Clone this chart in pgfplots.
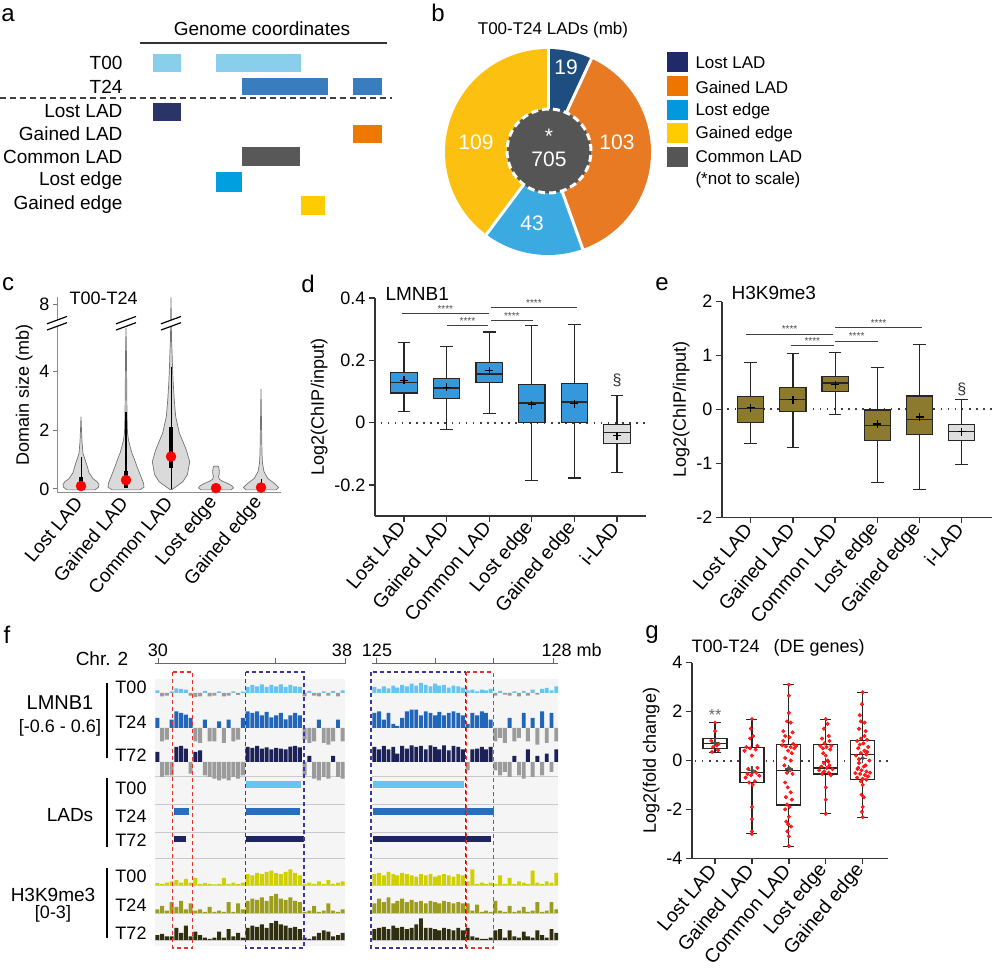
\documentclass[border=0pt]{standalone}
\usepackage{pgfplots}
\pgfplotsset{compat=1.18}
\usepackage{pgfplotstable}
\usepgfplotslibrary{statistics}
\usepackage{fontspec}
\setmainfont{Liberation Sans}

\definecolor{aT00}{RGB}{137,207,235}
\definecolor{aT24}{RGB}{58,125,191}
\definecolor{cLost}{RGB}{43,52,103}
\definecolor{cGained}{RGB}{240,120,0}
\definecolor{cCommon}{RGB}{88,88,88}
\definecolor{cLE}{RGB}{0,160,224}
\definecolor{cGE}{RGB}{255,204,0}
\definecolor{pLost}{RGB}{30,77,128}
\definecolor{pGained}{RGB}{232,122,35}
\definecolor{pLE}{RGB}{58,170,225}
\definecolor{pGE}{RGB}{252,192,16}
\definecolor{pCommon}{RGB}{85,85,85}
\definecolor{lLost}{RGB}{32,42,105}
\definecolor{lGained}{RGB}{238,118,0}
\definecolor{lLE}{RGB}{0,153,221}
\definecolor{lGE}{RGB}{255,204,0}
\definecolor{boxblue}{RGB}{52,152,219}
\definecolor{boxolive}{RGB}{140,122,46}
\definecolor{boxgrey}{RGB}{222,222,222}
\definecolor{vfill}{RGB}{218,218,218}
\definecolor{trL00}{RGB}{102,196,240}
\definecolor{trL24}{RGB}{33,102,184}
\definecolor{trL72}{RGB}{28,34,88}
\definecolor{trNeg}{RGB}{155,155,155}
\definecolor{trH00}{RGB}{208,208,0}
\definecolor{trH24}{RGB}{156,156,30}
\definecolor{trH72}{RGB}{47,47,16}
\definecolor{ladT00}{RGB}{102,196,240}
\definecolor{ladT24}{RGB}{40,110,190}
\definecolor{ladT72}{RGB}{30,37,96}
\definecolor{redbox}{RGB}{235,50,45}
\definecolor{bluebox}{RGB}{60,55,160}
\definecolor{bandbg}{RGB}{245,245,245}
\definecolor{bandline}{RGB}{200,200,205}

\pgfplotstableread{
x L00 L24 L72 H00 H24 H72
29.97 0.08 0.30 0.30 0.15 0.3 0.4
30.17 -0.10 -0.40 -0.45 0.1 0.6 0.5
30.38 -0.08 -0.35 -0.40 0.2 0.2 0.3
30.58 0.05 0.25 -0.40 0.3 0.9 0.3
30.78 0.14 0.50 0.45 0.4 0.5 1.0
30.99 0.12 0.45 0.48 0.2 1.0 0.6
31.19 0.10 0.40 0.40 0.5 0.3 1.2
31.39 -0.08 0.30 -0.35 0.2 0.8 0.3
31.60 -0.12 -0.40 0.30 0.6 0.2 0.7
31.80 -0.10 -0.45 0.35 0.1 0.3 0.4
32.00 0.06 0.25 -0.40 0.15 0.1 0.2
32.21 -0.10 -0.40 -0.45 0.1 0.5 0.1
32.41 -0.08 -0.40 -0.50 0.05 0.1 0.2
32.61 0.05 0.20 -0.55 0.1 0.2 0.7
32.82 -0.10 -0.45 -0.50 0.6 0.1 0.2
33.02 -0.08 0.25 -0.55 0.1 0.9 0.9
33.22 0.05 -0.40 -0.45 0.2 0.1 0.3
33.43 -0.06 -0.35 -0.50 0.1 0.8 0.6
33.63 0.04 0.30 -0.40 0.2 0.3 0.2
33.83 0.18 0.50 0.45 0.9 1.0 1.0
34.04 0.24 0.45 0.42 0.8 1.2 1.2
34.24 0.20 0.50 0.48 1.0 1.1 1.1
34.44 0.26 0.38 0.40 0.9 1.3 1.3
34.65 0.18 0.48 0.44 1.1 1.0 1.0
34.85 0.24 0.32 0.38 1.2 1.4 1.4
35.05 0.20 0.38 0.42 1.0 1.6 1.6
35.26 0.26 0.45 0.40 0.9 1.2 1.3
35.46 0.18 0.26 0.38 1.1 1.1 1.2
35.66 0.24 0.38 0.46 1.3 1.3 1.0
35.87 0.20 0.45 0.48 1.0 1.0 1.1
36.07 0.18 0.38 0.44 0.8 0.9 0.9
36.27 -0.10 -0.35 -0.40 0.1 0.1 0.2
36.48 0.06 -0.45 0.18 0.2 0.2 0.1
36.68 -0.08 -0.40 -0.50 0.1 0.6 0.3
36.88 -0.10 0.25 -0.55 0.3 0.1 0.6
37.09 0.05 -0.45 -0.45 0.1 0.2 0.8
37.29 -0.08 -0.50 -0.50 0.4 0.8 0.7
37.49 0.06 -0.40 0.18 0.1 0.2 0.3
37.70 -0.10 0.25 -0.45 0.2 0.1 0.4
37.90 0.08 -0.40 -0.50 0.3 0.3 0.6
}\leftregion

\pgfplotstableread{
x L00 L24 L72 H00 H24 H72
124.97 0.18 0.45 0.45 0.9 0.8 0.9
125.05 0.12 0.50 0.38 1.0 1.2 1.0
125.13 0.20 0.25 0.48 0.8 0.9 1.1
125.21 0.14 0.45 0.38 1.1 1.3 0.9
125.29 0.22 0.12 0.45 0.9 0.8 1.2
125.36 0.16 0.06 0.25 0.8 1.0 1.0
125.44 0.24 0.30 0.48 1.0 1.2 1.1
125.52 0.20 0.50 0.40 0.9 0.9 0.9
125.60 0.28 0.55 0.50 0.8 1.1 1.0
125.68 0.22 0.55 0.45 0.7 0.9 1.3
125.76 0.30 0.38 0.48 0.9 1.0 1.8
125.84 0.24 0.50 0.38 0.8 0.8 1.0
125.92 0.20 0.45 0.50 0.9 1.0 1.0
126.00 0.28 0.38 0.45 0.7 0.9 0.9
126.07 0.22 0.48 0.38 0.8 0.8 0.8
126.15 0.24 0.38 0.50 0.9 1.0 1.0
126.23 0.16 0.45 0.35 0.8 0.9 0.9
126.31 0.22 0.50 0.48 0.7 0.8 0.8
126.39 0.20 0.45 0.45 0.9 0.9 1.0
126.47 0.16 0.38 0.38 0.8 0.8 0.8
126.55 0.08 0.12 -0.25 0.3 0.8 1.0
126.63 0.10 0.45 0.38 1.3 0.2 0.3
126.71 0.05 0.38 0.40 0.1 0.7 0.2
126.79 0.10 0.50 0.45 0.2 0.1 0.1
126.86 0.08 0.45 0.38 0.1 0.2 0.1
126.94 0.12 0.25 0.45 0.2 0.1 0.2
127.02 -0.08 -0.40 -0.25 0.1 1.0 0.8
127.10 0.06 -0.30 -0.40 0.8 0.2 0.9
127.18 -0.05 -0.45 -0.30 0.1 0.1 0.2
127.26 -0.08 0.30 -0.45 0.6 0.6 0.8
127.34 0.05 -0.40 0.18 0.1 0.1 0.3
127.42 -0.10 -0.30 -0.40 0.3 0.2 0.2
127.50 0.06 0.45 -0.50 0.2 0.5 0.7
127.57 -0.08 -0.40 0.38 0.1 0.1 0.3
127.65 0.10 0.30 -0.45 1.2 0.2 0.2
127.73 -0.05 -0.50 0.18 0.2 0.9 0.8
127.81 0.12 0.50 -0.40 0.1 0.1 0.4
127.89 0.15 -0.45 0.25 0.3 0.2 0.2
127.97 0.08 0.45 -0.30 0.2 0.9 0.9
128.05 0.20 -0.40 0.38 1.0 0.3 0.6
}\rightregion

\pgfplotsset{
  gp/.style={scale only axis, anchor=south west,
    axis x line*=bottom, axis y line*=left,
    axis line style={line width=1.3pt, black!80},
    every tick/.append style={line width=1.3pt, black!80},
    tick align=outside, major tick length=6pt,
    tick label style={font=\fontsize{18}{20}\selectfont},
    label style={font=\fontsize{18}{20}\selectfont},
    xticklabel style={rotate=50, anchor=east, font=\fontsize{19.5}{21}\selectfont},
    clip=false},
  bx/.style={boxplot/draw direction=y, boxplot/box extend=0.62,
    boxplot/whisker extend=0.3, draw=black!85, line width=1.2pt, solid},
  trk/.style={scale only axis, hide axis, anchor=south west},
}

% signal track with positive (colour) and negative (grey) parts
\newcommand{\sigtrack}[9]{%
\coordinate (trkpos) at (#1,968-#5);
\begin{axis}[trk, at={(trkpos)}, width=#2, height=40, xmin=#3, xmax=#4, ymin=-0.6, ymax=0.6]
\addplot[ybar, bar width=#9, bar shift=0pt, fill=#8, draw=none, restrict y to domain=0:5] table[x=x,y=#7]{#6};
\addplot[ybar, bar width=#9, bar shift=0pt, fill=trNeg, draw=none, restrict y to domain=-5:0] table[x=x,y=#7]{#6};
\end{axis}}
\newcommand{\htrack}[9]{%
\coordinate (trkpos) at (#1,968-#5);
\begin{axis}[trk, at={(trkpos)}, width=#2, height=36, xmin=#3, xmax=#4, ymin=0, ymax=3]
\addplot[ybar, bar width=#9, bar shift=0pt, fill=#8, draw=none] table[x=x,y=#7]{#6};
\end{axis}}
% axis break mark at x-position #1 (inside panel c axis)
\newcommand{\brk}[1]{%
  \fill[white] (axis cs:#1-10,5.39) -- (axis cs:#1+10,5.64) -- (axis cs:#1+10,5.85) -- (axis cs:#1-10,5.6) -- cycle;
  \draw[black, line width=1.2pt] (axis cs:#1-10,5.39) -- (axis cs:#1+10,5.64);
  \draw[black, line width=1.2pt] (axis cs:#1-10,5.6) -- (axis cs:#1+10,5.85);}

\begin{document}
\begin{tikzpicture}[x=1pt,y=1pt,font=\fontsize{18}{21}\selectfont]
\useasboundingbox (0,0) rectangle (992,968);
% axis anchor points (pixel positions of the reference, y measured from the bottom)
\coordinate (Pa) at (0,968-230);
\coordinate (Pc) at (57,968-493);
\coordinate (Pd) at (375,968-516);
\coordinate (Pe) at (722,968-517.3);
\coordinate (Pg) at (692,968-858.3);
\coordinate (PLl) at (155,968-858);
\coordinate (PLr) at (372,968-858);

% ---------------- panel letters
\begin{scope}[font=\fontsize{24}{26}\selectfont]
\node at (8,968-15) {a};
\node at (438,968-13) {b};
\node at (8,968-284) {c};
\node at (308,968-284) {d};
\node at (662,968-284) {e};
\node at (7,968-635) {f};
\node at (652,968-635) {g};
\end{scope}

% ---------------- panel a
\begin{axis}[trk, at={(Pa)}, width=420, height=230, xmin=0, xmax=420, ymin=0, ymax=230, y dir=reverse]
\addplot[fill=aT00, draw=none] coordinates {(153,54) (181,54) (181,72) (153,72)} -- cycle;
\addplot[fill=aT00, draw=none] coordinates {(216,54) (301,54) (301,72) (216,72)} -- cycle;
\addplot[fill=aT24, draw=none] coordinates {(242,78) (328,78) (328,95) (242,95)} -- cycle;
\addplot[fill=aT24, draw=none] coordinates {(353,78) (382,78) (382,95) (353,95)} -- cycle;
\addplot[fill=cLost, draw=none] coordinates {(153,103) (181,103) (181,121) (153,121)} -- cycle;
\addplot[fill=cGained, draw=none] coordinates {(353,125) (382,125) (382,143) (353,143)} -- cycle;
\addplot[fill=cCommon, draw=none] coordinates {(242,147) (300,147) (300,166) (242,166)} -- cycle;
\addplot[fill=cLE, draw=none] coordinates {(216,172) (242,172) (242,192) (216,192)} -- cycle;
\addplot[fill=cGE, draw=none] coordinates {(301,196) (325,196) (325,215) (301,215)} -- cycle;
\end{axis}
\begin{scope}[font=\fontsize{19}{21}\selectfont]
\node at (262,968-29) {Genome coordinates};
\draw[black!80, line width=1.2pt] (140,968-43) -- (387,968-43);
\node[anchor=east] at (126,968-63) {T00};
\node[anchor=east] at (126,968-87) {T24};
\draw[black!75, line width=1.2pt, dash pattern=on 6pt off 4pt] (0,968-98) -- (392,968-98);
\node[anchor=east] at (126,968-111) {Lost LAD};
\node[anchor=east] at (126,968-134) {Gained LAD};
\node[anchor=east] at (126,968-157) {Common LAD};
\node[anchor=east] at (126,968-181) {Lost edge};
\node[anchor=east] at (126,968-205) {Gained edge};
\end{scope}

% ---------------- panel b (pie)
\node[font=\fontsize{17}{19}\selectfont] at (553,968-30) {T00-T24 LADs (mb)};
\pgfmathsetmacro\aA{90-19/274*360}
\pgfmathsetmacro\aB{\aA-103/274*360}
\pgfmathsetmacro\aC{\aB-43/274*360}
\fill[pLost] (548,816) -- ++(90:103) arc[start angle=90,end angle=\aA,radius=103] -- cycle;
\fill[pGained] (548,816) -- ++(\aA:103) arc[start angle=\aA,end angle=\aB,radius=103] -- cycle;
\fill[pLE] (548,816) -- ++(\aB:103) arc[start angle=\aB,end angle=\aC,radius=103] -- cycle;
\fill[pGE] (548,816) -- ++(\aC:103) arc[start angle=\aC,end angle=-270,radius=103] -- cycle;
\foreach \a in {90,\aA,\aB,\aC} \draw[white,line width=3pt] (548,816) -- ++(\a:105);
\fill[pCommon] (549,817) circle[radius=42];
\draw[white,line width=3pt,dash pattern=on 7pt off 4pt] (549,817) circle[radius=42];
\begin{scope}[white, font=\fontsize{21}{22}\selectfont]
\node at (566,968-67) {19};
\node at (617,968-142) {103};
\node at (532,968-223) {43};
\node at (476,968-142) {109};
\node at (549,968-136) {*};
\node at (549,968-159) {705};
\end{scope}
\begin{scope}[font=\fontsize{17}{19}\selectfont]
\fill[lLost] (667,968-72) rectangle (688,968-52);
\fill[lGained] (667,968-96) rectangle (688,968-76);
\fill[lLE] (667,968-120) rectangle (688,968-100);
\fill[lGE] (667,968-143) rectangle (688,968-123);
\fill[pCommon] (667,968-167) rectangle (688,968-147);
\node[anchor=west] at (692,968-63) {Lost LAD};
\node[anchor=west] at (692,968-87) {Gained LAD};
\node[anchor=west] at (692,968-111) {Lost edge};
\node[anchor=west] at (692,968-134) {Gained edge};
\node[anchor=west] at (692,968-157) {Common LAD};
\node[anchor=west] at (692,968-180) {(*not to scale)};
\end{scope}

% ---------------- panel c (violins)
\begin{axis}[scale only axis, anchor=south west, at={(Pc)}, width=224, height=196,
  xmin=57, xmax=281, ymin=-0.136, ymax=6.51,
  axis x line*=bottom, axis y line*=left,
  axis line style={line width=1pt, black!45},
  ytick={0,2,4,6.27}, yticklabels={0,2,4,8},
  xtick={81,126,171,216,261},
  xticklabels={Lost LAD,Gained LAD,Common LAD,Lost edge,Gained edge},
  xtick style={draw=none},
  ytick style={black!55, line width=1pt},
  tick align=outside, major tick length=4pt,
  tick label style={font=\fontsize{18}{20}\selectfont},
  xticklabel style={rotate=50, anchor=east, font=\fontsize{19}{21}\selectfont},
  label style={font=\fontsize{18}{20}\selectfont},
  ylabel={Domain size (mb)}, clip=false]
\addplot[fill=vfill, draw=black!55, line width=0.7pt] coordinates {
 (95,-0.03) (98.5,0.06) (99,0.15) (97,0.25) (93,0.35) (89,0.55) (87,0.8) (85,1.0) (83,1.2) (82,1.6) (81.5,2.0) (81,2.45)
 (80.5,2.0) (80,1.6) (79,1.2) (77,1.0) (75,0.8) (73,0.55) (69,0.35) (65,0.25) (63,0.15) (63.5,0.06) (67,-0.03)} -- cycle;
\addplot[fill=vfill, draw=black!55, line width=0.7pt] coordinates {
 (140,-0.03) (144,0.06) (143.5,0.2) (140,0.5) (137,0.76) (134.5,1.0) (132,1.21) (130,1.45) (128.5,1.66) (127.5,1.9) (127,2.5) (126.7,3.5) (126.5,4.5) (126,5.45)
 (125.5,4.5) (125.3,3.5) (125,2.5) (124.5,1.9) (123.5,1.66) (122,1.45) (120,1.21) (117.5,1.0) (115,0.76) (112,0.5) (108.5,0.2) (108,0.06) (112,-0.03)} -- cycle;
\addplot[fill=vfill, draw=black!55, line width=0.7pt] coordinates {
 (172,-0.02) (177,0.1) (183,0.25) (187.5,0.5) (189.7,0.93) (186.3,1.32) (183,1.6) (179.3,1.9) (175.7,2.45) (174.3,3.0) (173.2,3.6) (172.5,4.15) (172,4.7) (171.5,5.05) (171.2,6.0) (171,6.5)
 (170.8,6.0) (170.5,5.05) (170,4.7) (169.5,4.15) (168.8,3.6) (167.7,3.0) (166.3,2.45) (162.7,1.9) (159,1.6) (155.7,1.32) (152.3,0.93) (154.5,0.5) (159,0.25) (165,0.1) (170,-0.02)} -- cycle;
\addplot[fill=vfill, draw=black!55, line width=0.7pt] coordinates {
 (231,-0.03) (233.5,0.04) (231.5,0.12) (227,0.2) (222,0.27) (219.5,0.33) (218.5,0.42) (219.3,0.52) (219.2,0.65) (218.5,0.76) (216,0.78)
 (213.5,0.76) (212.8,0.65) (212.7,0.52) (213.5,0.42) (212.5,0.33) (210,0.27) (205,0.2) (200.5,0.12) (198.5,0.04) (201,-0.03)} -- cycle;
\addplot[fill=vfill, draw=black!55, line width=0.7pt] coordinates {
 (276,-0.03) (278.7,0.05) (274.3,0.19) (267.7,0.36) (264,0.59) (262.5,0.87) (262,1.2) (261.6,2.0) (261,3.39)
 (260.4,2.0) (260,1.2) (259.5,0.87) (258,0.59) (254.3,0.36) (247.7,0.19) (243.3,0.05) (246,-0.03)} -- cycle;
% inner box/whisker lines
\addplot[black, line width=1pt] coordinates {(81,0.42) (81,1.1)};
\addplot[black, line width=3.5pt] coordinates {(81,0.04) (81,0.42)};
\addplot[black, line width=1.6pt] coordinates {(126,0.62) (126,2.62)};
\addplot[black, line width=3.5pt] coordinates {(126,0.04) (126,0.62)};
\addplot[black, line width=1pt] coordinates {(171,0.0) (171,4.15)};
\addplot[black, line width=3.5pt] coordinates {(171,0.7) (171,2.1)};
\addplot[black, line width=3pt] coordinates {(216,0.0) (216,0.12)};
\addplot[black, line width=1pt] coordinates {(261,0.18) (261,0.35)};
\addplot[black, line width=3pt] coordinates {(261,0.0) (261,0.18)};
\addplot[only marks, mark=*, mark size=5pt, color=red, mark options={draw=none}] coordinates {(81,0.1) (126,0.3) (171,1.1) (216,0.03) (261,0.05)};
% axis breaks
\brk{57}
\brk{126}
\brk{171}
\end{axis}
\node[anchor=west, font=\fontsize{18}{20}\selectfont] at (66,968-298) {T00-T24};

% ---------------- panel d
\begin{axis}[gp, at={(Pd)}, width=271, height=218,
  xmin=0.319, xmax=6.68, ymin=-0.3, ymax=0.4,
  ytick={-0.2,0,0.2,0.4}, yticklabels={-0.2,0,0.2,0.4},
  xtick={1,2,3,4,5,6},
  xticklabels={Lost LAD,Gained LAD,Common LAD,Lost edge,Gained edge,i-LAD},
  ylabel={Log2(ChIP/input)}]
\addplot[black!75, line width=2pt, dash pattern=on 1.6pt off 5.5pt] coordinates {(0.45,0) (6.68,0)};
\addplot[bx, fill=boxblue, boxplot prepared={draw position=1, lower whisker=0.035, lower quartile=0.095, median=0.128, upper quartile=0.162, upper whisker=0.257}] coordinates {};
\addplot[bx, fill=boxblue, boxplot prepared={draw position=2, lower whisker=-0.023, lower quartile=0.076, median=0.111, upper quartile=0.141, upper whisker=0.243}] coordinates {};
\addplot[bx, fill=boxblue, boxplot prepared={draw position=3, lower whisker=0.029, lower quartile=0.128, median=0.156, upper quartile=0.194, upper whisker=0.291}] coordinates {};
\addplot[bx, fill=boxblue, boxplot prepared={draw position=4, lower whisker=-0.186, lower quartile=-0.001, median=0.063, upper quartile=0.121, upper whisker=0.311}] coordinates {};
\addplot[bx, fill=boxblue, boxplot prepared={draw position=5, lower whisker=-0.178, lower quartile=0.0, median=0.066, upper quartile=0.126, upper whisker=0.314}] coordinates {};
\addplot[bx, fill=boxgrey, boxplot prepared={draw position=6, lower whisker=-0.160, lower quartile=-0.068, median=-0.033, upper quartile=-0.006, upper whisker=0.088}] coordinates {};
\addplot[only marks, mark=+, mark size=4pt, black, line width=1.2pt] coordinates {(1,0.136) (2,0.113) (3,0.166) (4,0.058) (5,0.061) (6,-0.042)};
\addplot[black!75, line width=1pt] coordinates {(0.95,0.351) (3.0,0.351)};
\addplot[black!75, line width=1pt] coordinates {(2.01,0.311) (2.97,0.311)};
\addplot[black!75, line width=1pt] coordinates {(3.04,0.368) (5.06,0.368)};
\addplot[black!75, line width=1pt] coordinates {(3.04,0.327) (4.03,0.327)};
\node[above, inner sep=1pt, black!70, font=\fontsize{10}{10}\selectfont] at (axis cs:1.97,0.351) {****};
\node[above, inner sep=1pt, black!70, font=\fontsize{10}{10}\selectfont] at (axis cs:2.49,0.311) {****};
\node[above, inner sep=1pt, black!70, font=\fontsize{10}{10}\selectfont] at (axis cs:4.05,0.368) {****};
\node[above, inner sep=1pt, black!70, font=\fontsize{10}{10}\selectfont] at (axis cs:3.53,0.327) {****};
\node[black!80, font=\fontsize{16}{16}\selectfont] at (axis cs:6,0.135) {\S};
\end{axis}
\node[anchor=west, font=\fontsize{19}{21}\selectfont] at (382,968-294) {LMNB1};

% ---------------- panel e
\begin{axis}[gp, at={(Pe)}, width=270, height=215.6,
  xmin=0.32, xmax=6.718, ymin=-2, ymax=2,
  ytick={-2,-1,0,1,2}, yticklabels={-2,-1,0,1,2},
  xtick={1,2,3,4,5,6},
  xticklabels={Lost LAD,Gained LAD,Common LAD,Lost edge,Gained edge,i-LAD},
  ylabel={Log2(ChIP/input)}]
\addplot[black!75, line width=2pt, dash pattern=on 1.6pt off 5.5pt] coordinates {(0.45,0) (6.718,0)};
\addplot[bx, fill=boxolive, boxplot prepared={draw position=1, lower whisker=-0.63, lower quartile=-0.246, median=0.025, upper quartile=0.235, upper whisker=0.87}] coordinates {};
\addplot[bx, fill=boxolive, boxplot prepared={draw position=2, lower whisker=-0.70, lower quartile=-0.04, median=0.19, upper quartile=0.41, upper whisker=1.04}] coordinates {};
\addplot[bx, fill=boxolive, boxplot prepared={draw position=3, lower whisker=-0.10, lower quartile=0.33, median=0.49, upper quartile=0.61, upper whisker=1.06}] coordinates {};
\addplot[bx, fill=boxolive, boxplot prepared={draw position=4, lower whisker=-1.35, lower quartile=-0.57, median=-0.30, upper quartile=-0.01, upper whisker=0.78}] coordinates {};
\addplot[bx, fill=boxolive, boxplot prepared={draw position=5, lower whisker=-1.49, lower quartile=-0.47, median=-0.18, upper quartile=0.25, upper whisker=1.21}] coordinates {};
\addplot[bx, fill=boxgrey, boxplot prepared={draw position=6, lower whisker=-1.02, lower quartile=-0.57, median=-0.41, upper quartile=-0.28, upper whisker=0.19}] coordinates {};
\addplot[only marks, mark=+, mark size=4pt, black, line width=1.2pt] coordinates {(1,0.03) (2,0.18) (3,0.46) (4,-0.27) (5,-0.14) (6,-0.41)};
\addplot[black!75, line width=1pt] coordinates {(0.89,1.40) (2.95,1.40)};
\addplot[black!75, line width=1pt] coordinates {(1.95,1.19) (2.97,1.19)};
\addplot[black!75, line width=1pt] coordinates {(3.0,1.52) (5.06,1.52)};
\addplot[black!75, line width=1pt] coordinates {(3.0,1.27) (4.02,1.27)};
\node[above, inner sep=1pt, black!70, font=\fontsize{10}{10}\selectfont] at (axis cs:1.92,1.40) {****};
\node[above, inner sep=1pt, black!70, font=\fontsize{10}{10}\selectfont] at (axis cs:2.46,1.19) {****};
\node[above, inner sep=1pt, black!70, font=\fontsize{10}{10}\selectfont] at (axis cs:4.03,1.52) {****};
\node[above, inner sep=1pt, black!70, font=\fontsize{10}{10}\selectfont] at (axis cs:3.51,1.27) {****};
\node[black!80, font=\fontsize{16}{16}\selectfont] at (axis cs:6,0.38) {\S};
\end{axis}
\node[anchor=west, font=\fontsize{19}{21}\selectfont] at (728,968-293) {H3K9me3};

% ---------------- panel f
\fill[bandbg] (155,968-679) rectangle (345,968-946);
\fill[bandbg] (372,968-679) rectangle (558,968-946);
\foreach \yy in {776,804,832,858,885,913,940} {
  \draw[bandline, line width=0.9pt] (155,968-\yy) -- (345,968-\yy);
  \draw[bandline, line width=0.9pt] (372,968-\yy) -- (558,968-\yy);
}
% ruler
\draw[black!60, line width=1pt] (155,968-664) -- (345,968-664);
\foreach \xx in {158,275,345} \draw[black!60, line width=1pt] (\xx,968-664) -- (\xx,968-658);
\draw[black!60, line width=1pt] (372,968-664) -- (558,968-664);
\foreach \xx in {376,435,493,553} \draw[black!60, line width=1pt] (\xx,968-664) -- (\xx,968-658);
\node at (158,968-650) {30};
\node at (342,968-650) {38};
\node at (377,968-650) {125};
\node[anchor=west] at (538,968-650) {128 mb};
\node[font=\fontsize{19}{21}\selectfont] at (102,968-659) {Chr. 2};

% signal tracks (left region 29.87-38 mb, right region 124.93-128.08 mb)
\sigtrack{155}{190}{29.87}{38}{713}{\leftregion}{L00}{trL00}{0.17}
\sigtrack{155}{190}{29.87}{38}{748}{\leftregion}{L24}{trL24}{0.17}
\sigtrack{155}{190}{29.87}{38}{782}{\leftregion}{L72}{trL72}{0.17}
\sigtrack{372}{186}{124.93}{128.08}{713}{\rightregion}{L00}{trL00}{0.066}
\sigtrack{372}{186}{124.93}{128.08}{748}{\rightregion}{L24}{trL24}{0.066}
\sigtrack{372}{186}{124.93}{128.08}{782}{\rightregion}{L72}{trL72}{0.066}
\htrack{155}{190}{29.87}{38}{885}{\leftregion}{H00}{trH00}{0.17}
\htrack{155}{190}{29.87}{38}{913}{\leftregion}{H24}{trH24}{0.17}
\htrack{155}{190}{29.87}{38}{940}{\leftregion}{H72}{trH72}{0.17}
\htrack{372}{186}{124.93}{128.08}{885}{\rightregion}{H00}{trH00}{0.066}
\htrack{372}{186}{124.93}{128.08}{913}{\rightregion}{H24}{trH24}{0.066}
\htrack{372}{186}{124.93}{128.08}{940}{\rightregion}{H72}{trH72}{0.066}

% LAD calls
\begin{axis}[trk, at={(PLl)}, width=190, height=82, xmin=29.87, xmax=38, ymin=776, ymax=858, y dir=reverse]
\addplot[fill=ladT00, draw=none] coordinates {(33.75,781.5) (36.10,781.5) (36.10,788) (33.75,788)} -- cycle;
\addplot[fill=ladT24, draw=none] coordinates {(30.68,808.5) (31.33,808.5) (31.33,815) (30.68,815)} -- cycle;
\addplot[fill=ladT24, draw=none] coordinates {(33.76,808.5) (36.07,808.5) (36.07,815) (33.76,815)} -- cycle;
\addplot[fill=ladT72, draw=none] coordinates {(30.68,836) (31.20,836) (31.20,842.5) (30.68,842.5)} -- cycle;
\addplot[fill=ladT72, draw=none] coordinates {(33.76,836) (36.25,836) (36.25,842.5) (33.76,842.5)} -- cycle;
\end{axis}
\begin{axis}[trk, at={(PLr)}, width=186, height=82, xmin=124.93, xmax=128.08, ymin=776, ymax=858, y dir=reverse]
\addplot[fill=ladT00, draw=none] coordinates {(124.94,781.5) (126.48,781.5) (126.48,788) (124.94,788)} -- cycle;
\addplot[fill=ladT24, draw=none] coordinates {(124.94,808.5) (127.00,808.5) (127.00,815) (124.94,815)} -- cycle;
\addplot[fill=ladT72, draw=none] coordinates {(124.94,836) (126.95,836) (126.95,842.5) (124.94,842.5)} -- cycle;
\end{axis}

% highlight boxes
\draw[redbox, line width=1.4pt, dash pattern=on 4pt off 3pt] (172.7,968-672) rectangle (192.7,968-948);
\draw[bluebox, line width=1.4pt, dash pattern=on 4pt off 3pt] (245.7,968-672) rectangle (304,968-948);
\draw[bluebox, line width=1.4pt, dash pattern=on 4pt off 3pt] (371,968-672) rectangle (465.7,968-948);
\draw[redbox, line width=1.4pt, dash pattern=on 4pt off 3pt] (466.7,968-672) rectangle (493.3,968-948);

% track labels
\foreach \yy/\tt in {687/T00,722/T24,755/T72,788/T00,816/T24,840/T72,876/T00,905/T24,933/T72}
  \node at (131,968-\yy) {\tt};
\node[font=\fontsize{20}{22}\selectfont] at (60,968-703) {LMNB1};
\node at (60,968-728) {[-0.6 - 0.6]};
\node[font=\fontsize{19}{21}\selectfont] at (70,968-815) {LADs};
\node[font=\fontsize{19}{21}\selectfont] at (53,968-895) {H3K9me3};
\node at (53,968-914) {[0-3]};
\draw[black, line width=1.3pt] (107,968-683) -- (107,968-758);
\draw[black, line width=1.3pt] (107,968-778) -- (107,968-847);
\draw[black, line width=1.3pt] (107,968-868) -- (107,968-938);

% ---------------- panel g
\begin{axis}[gp, at={(Pg)}, width=196, height=195.6,
  xmin=0.377, xmax=5.686, ymin=-4, ymax=4,
  ytick={-4,-2,0,2,4}, yticklabels={-4,-2,0,2,4},
  xtick={1,2,3,4,5},
  xticklabels={Lost LAD,Gained LAD,Common LAD,Lost edge,Gained edge},
  ylabel={Log2(fold change)}]
\addplot[black!75, line width=2pt, dash pattern=on 1.6pt off 5.5pt] coordinates {(0.45,0) (5.686,0)};
\addplot[bx, boxplot/box extend=0.65, fill=white, boxplot prepared={draw position=1, lower whisker=0.34, lower quartile=0.48, median=0.68, upper quartile=0.89, upper whisker=1.55}] coordinates {};
\addplot[bx, boxplot/box extend=0.65, fill=white, boxplot prepared={draw position=2, lower whisker=-3.0, lower quartile=-0.89, median=-0.5, upper quartile=0.52, upper whisker=1.69}] coordinates {};
\addplot[bx, boxplot/box extend=0.65, fill=white, boxplot prepared={draw position=3, lower whisker=-3.52, lower quartile=-1.82, median=-0.41, upper quartile=0.64, upper whisker=3.10}] coordinates {};
\addplot[bx, boxplot/box extend=0.65, fill=white, boxplot prepared={draw position=4, lower whisker=-2.18, lower quartile=-0.55, median=-0.31, upper quartile=0.64, upper whisker=1.69}] coordinates {};
\addplot[bx, boxplot/box extend=0.65, fill=white, boxplot prepared={draw position=5, lower whisker=-2.32, lower quartile=-0.78, median=0.23, upper quartile=0.82, upper whisker=2.79}] coordinates {};
\addplot[only marks, mark=*, mark size=1.8pt, color=red, mark options={fill=red!85}] coordinates {
 (0.92,0.35) (1.08,0.42) (0.95,0.55) (1.05,0.62) (1.0,0.7) (0.9,0.8) (1.1,0.68) (1.0,1.2) (1.0,1.55)
 (2.0,1.69) (1.97,1.3) (2.03,1.0) (1.85,0.55) (1.95,0.5) (2.15,0.6) (2.1,0.45) (1.8,0.4) (2.0,0.2) (1.9,-0.35) (2.05,-0.45) (2.12,-0.5) (1.88,-0.55) (1.98,-0.6) (2.2,-0.62) (1.83,-0.7) (2.08,-0.85) (1.92,-0.9) (2.02,-1.0) (2.0,-1.9) (2.0,-2.4) (2.0,-2.9) (2.0,-3.0) (1.95,0.9) (2.15,-0.3)
 (3.0,3.1) (3.0,2.65) (2.95,1.6) (3.05,1.55) (2.85,1.2) (3.1,1.15) (2.9,1.0) (3.02,0.95) (2.82,0.62) (2.92,0.58) (3.05,0.55) (3.15,0.5) (3.2,0.6) (2.98,0.4) (3.08,0.3) (2.9,0.1) (3.0,-0.3) (3.03,-0.4) (2.95,-0.5) (3.1,-0.55) (2.9,-0.9) (2.97,-1.1) (3.05,-1.3) (2.92,-1.5) (3.08,-1.6) (2.95,-1.8) (3.02,-1.9) (2.9,-2.0) (3.0,-2.3) (2.93,-2.5) (3.06,-2.7) (2.96,-2.9) (3.0,-3.1) (3.0,-3.5) (3.05,0.0) (2.88,-0.2) (3.12,0.68) (2.85,0.8) (3.0,1.95) (2.98,-2.6)
 (4.0,1.69) (4.05,1.5) (3.95,1.3) (4.08,1.0) (3.9,0.9) (4.1,0.8) (3.97,0.7) (3.85,0.6) (4.15,0.6) (4.02,0.55) (3.92,0.5) (4.12,0.45) (4.0,0.2) (4.05,0.0) (3.95,-0.1) (4.1,-0.2) (3.88,-0.25) (4.03,-0.3) (4.18,-0.35) (3.82,-0.4) (3.96,-0.45) (4.08,-0.5) (3.9,-0.55) (4.14,-0.6) (4.0,-1.1) (4.0,-1.6) (4.0,-2.18) (3.93,0.3) (4.07,-0.05)
 (5.0,2.79) (4.98,2.3) (4.95,1.6) (5.05,1.55) (4.9,1.3) (5.08,1.2) (4.95,0.9) (5.12,0.85) (4.85,0.8) (5.02,0.7) (4.92,0.65) (5.15,0.55) (4.88,0.5) (5.05,0.4) (4.95,0.3) (5.1,0.25) (4.82,0.2) (5.0,0.1) (5.18,0.0) (4.9,-0.1) (5.03,-0.25) (4.86,-0.35) (4.97,-0.4) (5.1,-0.45) (5.2,-0.5) (4.8,-0.52) (4.93,-0.55) (5.06,-0.6) (5.15,-0.65) (4.85,-0.7) (5.0,-0.75) (5.1,-0.78) (4.95,-0.85) (5.0,-1.0) (4.97,-1.4) (5.03,-1.5) (5.0,-1.9) (4.98,-2.1) (5.0,-2.32) (5.12,0.35) (4.88,-0.3) (5.05,1.0) (4.92,1.85) (5.08,-0.2) (4.9,0.05)};
\addplot[only marks, mark=+, mark size=4pt, black!70, line width=1.2pt] coordinates {(1,0.75) (2,-0.4) (3,-0.35) (4,-0.05) (5,0.08)};
\node[black!60, font=\fontsize{16}{16}\selectfont] at (axis cs:1,1.85) {**};
\end{axis}
\node[anchor=west, font=\fontsize{18}{20}\selectfont] at (688,968-648) {T00-T24\hspace{14pt}(DE genes)};

\end{tikzpicture}
\end{document}
